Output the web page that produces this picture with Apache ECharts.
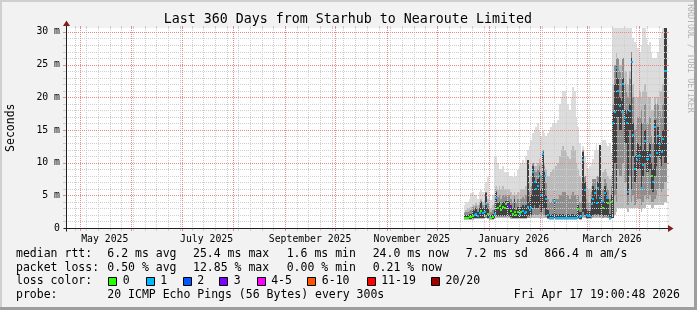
<!DOCTYPE html>
<html><head><meta charset="utf-8">
<script src="https://cdn.jsdelivr.net/npm/echarts@6/dist/echarts.min.js"></script>
<style>html,body{margin:0;padding:0;background:#f2f2f2}#c{width:697px;height:310px}</style>
</head><body><div id="c"></div>
<script>
// ---------------- data ----------------
const chartTitle = 'Last 360 Days from Starhub to Nearoute Limited';
const firstDay = [2025, 12, 17];           // first daily sample
// median rtt (ms) per day
const median = [
 1.6,1.6,1.6,1.7,1.7,1.8,2.0,2.1,1.9,2.3,
 2.6,2.3,2.4,3.7,2.2,1.7,1.6,1.7,2.2,4.6,
 3.0,3.4,2.8,3.2,3.0,3.6,3.5,3.2,2.6,2.2,
 2.5,2.0,2.4,2.2,2.4,2.6,2.3,2.5,3.2,2.8,
 3.0,8.6,7.0,6.0,6.5,7.9,5.0,11.3,7.9,4.4,
 2.0,1.6,1.5,1.6,4.0,1.6,1.5,1.6,1.5,1.6,
 1.5,1.5,1.6,1.5,1.6,1.6,1.5,1.6,2.9,1.7,
 1.8,10.4,5.8,2.0,1.8,1.8,3.7,4.5,5.3,3.8,
 6.1,4.6,4.0,3.0,5.3,4.6,3.8,1.5,4.0,16.1,
 17.8,24.5,21.0,18.6,17.8,22.0,16.8,16.0,5.5,17.9,
 25.4,14.2,9.1,10.4,11.0,11.0,6.1,9.7,13.3,10.5,
 10.5,11.2,7.9,7.1,15.5,11.4,14.0,12.9,11.6,13.6,
 24.0,24.0];
// loss bucket index per day (0 = no loss, 1 = 1 lost, 3 = 3 lost ...)
const lossBucket = [
 0,0,0,0,0,0,1,1,1,1,
 0,1,1,1,0,1,0,0,1,1,
 0,0,0,0,0,0,3,3,0,0,
 0,0,0,1,0,1,1,1,1,1,
 1,1,1,1,1,1,1,1,1,1,
 1,1,1,1,1,1,1,1,1,1,
 1,1,1,1,1,1,1,1,0,1,
 1,1,1,1,1,1,1,1,1,1,
 1,1,1,0,1,1,0,1,0,1,
 1,1,1,1,1,1,1,1,1,1,
 1,1,1,1,1,1,1,1,1,1,
 1,1,0,1,1,1,1,1,1,1,
 1,1];
// smoke: lowest ping (ms)
const smokeMin = [
 1.3,1.3,1.3,1.3,1.3,1.3,1.4,1.4,1.4,1.4,
 1.4,1.4,1.4,1.5,1.4,1.3,1.3,1.3,1.4,1.5,
 1.5,1.5,1.5,1.5,1.5,1.5,1.5,1.5,1.4,1.4,
 1.4,1.4,1.4,1.4,1.4,1.4,1.4,1.4,1.5,1.5,
 1.5,1.6,1.6,1.6,1.6,1.6,1.6,1.6,1.6,1.5,
 1.4,1.3,1.3,1.3,1.4,1.3,1.3,1.3,1.3,1.3,
 1.3,1.3,1.3,1.3,1.3,1.3,1.3,1.3,1.4,1.3,
 1.3,1.5,1.5,1.4,1.4,1.4,1.4,1.5,1.5,1.5,
 1.5,1.5,1.5,1.5,1.5,1.5,1.5,1.3,1.4,1.5,
 2.0,2.5,3.0,3.0,3.0,3.0,3.0,3.0,2.5,3.0,
 3.0,3.0,3.0,3.0,3.0,3.0,2.5,3.0,3.0,3.5,
 3.5,3.5,3.0,3.0,3.5,3.5,3.5,3.5,3.5,3.5,
 4.0,4.0];
// smoke: middle half of the pings, low and high edge (ms)
const midLow = [
 1.4,1.4,1.4,1.4,1.4,1.4,1.5,1.5,1.5,1.5,
 1.5,1.5,1.5,1.6,1.5,1.4,1.4,1.4,1.5,1.7,
 1.7,1.7,1.7,1.7,1.7,1.7,1.7,1.7,1.6,1.5,
 1.5,1.5,1.5,1.5,1.5,1.5,1.5,1.5,1.6,1.6,
 1.7,2.0,2.2,2.0,2.0,2.2,1.8,2.0,2.0,1.7,
 1.4,1.4,1.4,1.4,1.4,1.4,1.4,1.4,1.4,1.4,
 1.4,1.4,1.4,1.4,1.4,1.4,1.4,1.4,1.5,1.4,
 1.4,1.8,1.7,1.5,1.5,1.5,1.6,1.7,1.8,1.7,
 1.8,1.7,1.7,1.6,1.7,1.7,1.6,1.4,1.5,1.5,
 5.0,4.0,9.0,8.0,8.0,10.0,7.0,7.0,3.5,8.0,
 4.0,5.0,3.5,4.0,4.5,4.5,3.5,4.0,5.0,4.5,
 4.5,5.0,4.0,4.0,4.5,5.0,6.0,6.0,5.5,6.0,
 7.0,7.0];
const midHigh = [
 2.3,2.5,2.5,2.6,2.8,3.2,3.0,3.4,3.0,3.5,
 4.2,3.5,3.6,5.5,3.8,2.7,2.5,2.8,3.8,6.0,
 4.8,5.0,4.5,5.0,4.8,5.0,5.0,5.0,4.5,4.0,
 5.0,4.0,4.5,4.2,4.5,4.8,4.5,5.0,10.4,5.5,
 6.5,10.0,9.0,8.5,9.0,9.5,8.0,12.0,9.5,7.0,
 4.5,4.0,4.0,4.5,6.0,4.5,4.5,5.0,5.0,5.5,
 5.5,5.0,5.0,4.5,5.0,5.5,5.0,4.5,5.0,4.0,
 4.0,12.0,8.0,4.5,4.0,4.0,5.5,7.5,7.5,6.0,
 8.0,12.7,7.0,6.0,7.5,7.0,6.0,4.5,6.5,19.0,
 25,26,26,24,23,26,22,21,20,23,
 27,20,15,16,17,17,18,16,19,16,
 16,17,14,13,19,17,19,18,17,19,
 30.6,30.6];
// smoke: dense (dark) core, low and high edge (ms)
const darkLow = [
 1.4,1.4,1.4,1.4,1.4,1.5,1.5,1.5,1.5,1.6,
 1.6,1.6,1.6,2.0,1.6,1.4,1.4,1.4,1.5,2.0,
 1.8,1.8,1.8,1.8,1.8,1.9,1.9,1.9,1.7,1.6,
 1.6,1.6,1.6,1.6,1.6,1.6,1.6,1.6,1.8,1.8,
 2.0,3.0,3.5,3.0,3.0,3.5,2.5,3.0,3.0,2.0,
 1.5,1.4,1.4,1.4,1.6,1.4,1.4,1.4,1.4,1.4,
 1.4,1.4,1.4,1.4,1.4,1.4,1.4,1.4,1.6,1.4,
 1.4,2.5,2.0,1.5,1.5,1.5,1.8,2.0,2.2,2.0,
 2.2,2.0,2.0,1.8,2.0,2.0,1.8,1.4,1.5,1.5,
 10.0,6.0,17.0,15.0,15.0,18.0,13.0,13.0,5.0,15.0,
 6.0,11.0,7.0,8.0,9.0,9.0,6.0,8.0,10.0,8.5,
 8.5,9.0,6.0,5.5,8.0,9.5,11.0,10.5,9.5,11.0,
 10.0,10.0];
const darkHigh = [
 1.9,2.0,2.0,2.1,2.2,2.8,2.6,3.0,2.5,3.0,
 4.0,3.0,3.0,5.3,3.0,2.2,2.0,2.2,2.8,5.5,
 3.8,4.0,3.5,4.0,3.8,4.2,4.2,4.0,3.5,3.0,
 4.5,2.8,3.2,3.0,3.2,3.5,3.2,3.5,10.4,4.0,
 5.0,9.5,8.0,7.0,7.5,8.5,6.0,11.6,8.5,5.0,
 2.8,2.2,2.0,2.2,4.5,2.2,2.0,2.2,2.0,2.2,
 2.0,2.0,2.2,2.0,2.2,2.2,2.0,2.2,3.5,2.5,
 2.5,11.7,7.0,3.0,2.6,2.6,4.5,6.5,6.0,4.5,
 7.0,12.7,5.0,4.0,6.5,5.5,4.5,2.2,5.0,17.8,
 22.0,25.0,23.0,20.0,19.5,23.0,18.0,17.5,18.0,19.0,
 26.0,16.0,11.0,12.0,13.0,12.5,16.0,12.0,15.0,12.0,
 12.0,13.0,10.0,9.0,16.5,13.0,15.5,14.0,13.0,15.0,
 30.6,30.6];
// smoke: upper edge of the medium grey part (ms)
const grayHigh = [
 2.5,2.8,3.0,3.0,3.2,3.5,3.5,3.8,3.5,4.0,
 4.5,4.0,4.2,5.5,4.5,3.2,3.0,3.5,5.0,6.5,
 6.0,6.5,6.0,6.5,6.0,6.0,6.0,6.0,5.5,5.0,
 5.5,5.0,5.5,5.5,6.0,6.0,6.0,6.5,7.0,7.0,
 8.0,9.0,9.5,9.5,10.0,10.5,10.0,11.0,10.0,9.0,
 8.0,8.0,8.5,9.0,9.0,9.5,10.0,11.0,12.0,12.5,
 12.0,11.5,11.0,10.5,12.0,12.5,12.0,10.0,9.0,8.0,
 7.0,8.0,7.5,6.5,6.0,6.0,6.5,7.0,7.5,8.0,
 8.0,8.0,8.0,8.5,9.0,8.5,8.0,7.5,8.0,22.0,
 25,27,26,25,25,26,24,24,22,24,
 27,22,20,20,20,21,20,21,22,21,
 20,20,18,18,20,19,20,21,21,22,
 26,26];
// smoke: highest ping (ms)
const smokeMax = [
 3.5,4.0,4.0,4.5,5.3,5.5,5.0,5.0,4.5,5.5,
 5.8,5.5,5.0,7.0,7.8,5.0,4.3,5.0,10.9,10.9,
 10.0,9.0,9.0,9.5,8.5,8.5,8.5,8.0,8.0,7.8,
 8.5,8.0,8.9,9.5,10.0,10.4,10.0,11.0,12.0,12.5,
 13.5,14.5,15.0,15.5,16.0,15.0,14.0,15.0,14.5,14.0,
 14.5,15.0,15.5,16.0,16.5,16.0,16.5,19.0,20.0,21.0,
 21.0,20.0,19.0,18.0,20.0,21.5,21.0,17.0,15.5,13.0,
 11.0,12.5,11.0,10.0,9.0,9.5,10.0,10.5,12.0,13.0,
 12.0,11.5,12.5,13.5,13.5,13.0,12.5,13.0,11.5,30.6,
 30.6,30.6,30.6,30.6,30.6,30.6,30.6,30.6,30.6,30.6,
 30.6,29.0,28.5,28.0,27.5,27.0,28.0,30.6,30.6,29.0,
 28.0,28.5,27.0,26.0,26.0,26.0,27.0,29.0,30.0,30.6,
 30.6,30.6];

const yTickValues = [0, 5, 10, 15, 20, 25, 30];
const yTickLabels = ['0', '5 m', '10 m', '15 m', '20 m', '25 m', '30 m'];
const xLabelMonths = [[2025,5],[2025,7],[2025,9],[2025,11],[2026,1],[2026,3]];
const xLabelTexts = ['May 2025','July 2025','September 2025','November 2025','January 2026','March 2026'];
const lossLabels = ['0','1','2','3','4-5','6-10','11-19','20/20'];
const lossColors = ['#26ff00','#00b8ff','#0059ff','#7e00ff','#ff00ff','#ff5500','#ff0000','#a10000'];
const statRtt = ['median rtt:', '6.2 ms avg', '25.4 ms max', '1.6 ms min', '24.0 ms now', '7.2 ms sd', '866.4 m am/s'];
const statLoss = ['packet loss:', '0.50 % avg', '12.85 % max', '0.00 % min', '0.21 % now'];
const probeText = ['probe:', '20 ICMP Echo Pings (56 Bytes) every 300s'];
const stampText = 'Fri Apr 17 19:00:48 2026';
const watermark = 'RRDTOOL / TOBI OETIKER';

(function () {
// ---------------- scale helpers ----------------
const START = Date.UTC(2025, 3, 22, 19, 0, 48);
const SPAN = 360, YMAX = 30.6;
const dayOff = ms => (ms - START) / 864e5;
const dayT = median.map((_, i) => dayOff(Date.UTC(firstDay[0], firstDay[1] - 1, firstDay[2] + i)));
const monthStarts = [];
for (let k = 0; k < 12; k++) monthStarts.push(dayOff(Date.UTC(2025, 4 + k, 1)));
const weeks = [];
for (let k = 0; ; k++) { const v = dayOff(Date.UTC(2025, 3, 28 + 7 * k)); if (v > SPAN) break; weeks.push(v); }
const xLabelPos = xLabelMonths.map(([y, m]) => dayOff(Date.UTC(y, m - 1, 16)));

const FONT = 'DejaVu Sans Mono';
const GRID_MINOR = '#cfcfcf', GRID_MAJOR = '#e48a8a';

function band(lowArr, highArr, color, z) {
  return {
    type: 'custom', clip: true, silent: true, z,
    data: dayT.map((t, i) => [t, lowArr[i], highArr[i]]),
    encode: { x: 0, y: [1, 2] },
    renderItem(params, api) {
      const t = api.value(0);
      const a = api.coord([t, api.value(1)]);
      const b = api.coord([t + 1, Math.min(api.value(2), YMAX)]);
      const x0 = Math.round(a[0]), x1 = Math.round(b[0]);
      const y0 = Math.round(a[1]), y1 = Math.round(b[1]);
      return { type: 'rect', shape: { x: x0, y: y1, width: x1 - x0, height: y0 - y1 }, style: { fill: color } };
    }
  };
}

function gridSeries(items, dir, color, z) {
  return {
    type: 'custom', silent: true, z,
    data: items.map(v => [v, 0]),
    encode: { x: 0, y: 1 },
    renderItem(params, api) {
      const v = api.value(0);
      const ch = [];
      if (dir === 0) {
        const p = api.coord([v, 0]), q = api.coord([v, YMAX]);
        const x = Math.round(p[0]) + 0.5;
        ch.push({ type: 'line', shape: { x1: x, y1: q[1], x2: x, y2: p[1] }, style: { stroke: color, lineWidth: 1, lineDash: [1, 1] } });
        ch.push({ type: 'line', shape: { x1: x, y1: q[1] - 2, x2: x, y2: q[1] }, style: { stroke: color, lineWidth: 1 } });
        ch.push({ type: 'line', shape: { x1: x, y1: p[1], x2: x, y2: p[1] + 3 }, style: { stroke: color, lineWidth: 1 } });
      } else {
        const p = api.coord([0, v]), q = api.coord([SPAN, v]);
        const y = Math.round(p[1]) + 0.5;
        ch.push({ type: 'line', shape: { x1: p[0], y1: y, x2: q[0], y2: y }, style: { stroke: color, lineWidth: 1, lineDash: [1, 1] } });
        ch.push({ type: 'line', shape: { x1: p[0] - 3, y1: y, x2: p[0], y2: y }, style: { stroke: color, lineWidth: 1 } });
        ch.push({ type: 'line', shape: { x1: q[0], y1: y, x2: q[0] + 2, y2: y }, style: { stroke: color, lineWidth: 1 } });
      }
      return { type: 'group', children: ch };
    }
  };
}
const minorY = [], majorY = [];
for (let v = 1; v <= 30; v++) (v % 5 === 0 ? majorY : minorY).push(v);

const medianSeries = {
  type: 'custom', clip: true, silent: true, z: 20,
  data: dayT.map((t, i) => [t, median[i], lossBucket[i]]),
  encode: { x: 0, y: 1 },
  renderItem(params, api) {
    const t = api.value(0), v = api.value(1);
    const a = api.coord([t, v]), b = api.coord([t + 1, v]);
    const x0 = Math.round(a[0]);
    const x1 = Math.max(Math.round(b[0]), x0 + 2);
    const y = Math.round(a[1]) - 1;
    return { type: 'rect', shape: { x: x0, y, width: x1 - x0, height: 2 }, style: { fill: lossColors[api.value(2)] } };
  }
};

const chart = echarts.init(document.getElementById('c'), null, { renderer: 'canvas' });
chart.setOption({
  animation: false,
  backgroundColor: '#f2f2f2',
  grid: { left: 66, top: 28, width: 601, height: 200, show: true, backgroundColor: '#ffffff', borderWidth: 0 },
  xAxis: {
    type: 'value', min: 0, max: SPAN,
    axisLine: { show: false }, splitLine: { show: false },
    axisTick: { show: false },
    axisLabel: {
      customValues: xLabelPos, margin: 6,
      fontFamily: FONT, fontSize: 9.8, color: '#000',
      formatter: v => { let k = 0, d = 1e9; xLabelPos.forEach((p, i) => { if (Math.abs(p - v) < d) { d = Math.abs(p - v); k = i; } }); return xLabelTexts[k]; }
    }
  },
  yAxis: {
    type: 'value', min: 0, max: YMAX,
    axisLine: { show: false }, splitLine: { show: false }, axisTick: { show: false },
    axisLabel: {
      customValues: yTickValues, margin: 6,
      fontFamily: FONT, fontSize: 9.8, color: '#000',
      formatter: v => yTickLabels[yTickValues.indexOf(Math.round(v))] || ''
    }
  },
  series: [
    band(smokeMin, smokeMax, '#dcdcdc', 1),
    band(smokeMin, grayHigh, '#bababa', 2),
    band(midLow, midHigh, '#8e8e8e', 3),
    band(darkLow, darkHigh, '#404040', 4),
    gridSeries(weeks, 0, GRID_MINOR, 5),
    gridSeries(minorY, 1, GRID_MINOR, 5),
    gridSeries(monthStarts, 0, GRID_MAJOR, 6),
    gridSeries(majorY, 1, GRID_MAJOR, 6),
    medianSeries
  ]
});

// ---------- frame, axes, legend texts ----------
const o = chart.convertToPixel({ gridIndex: 0 }, [0, 0]);
const tr = chart.convertToPixel({ gridIndex: 0 }, [SPAN, YMAX]);
const ox = Math.round(o[0]) + 0.5, oy = Math.round(o[1]) + 0.5;
const topY = Math.round(tr[1]), rightX = Math.round(tr[0]);
const AX = '#1f1f1f', ARROW = '#801f1f';
const txt = (text, x, y, size, extra) => ({
  type: 'text', x, y, z: 50, silent: true,
  style: Object.assign({ text, fontFamily: FONT, fontSize: size, fill: '#000', align: 'left', verticalAlign: 'middle' }, extra || {})
});
const g = [];
// 3D frame
g.push({ type: 'rect', z: 40, shape: { x: 0, y: 0, width: 697, height: 2 }, style: { fill: '#cfcfcf' } });
g.push({ type: 'rect', z: 40, shape: { x: 0, y: 0, width: 2, height: 310 }, style: { fill: '#cfcfcf' } });
g.push({ type: 'rect', z: 41, shape: { x: 0, y: 307, width: 697, height: 3 }, style: { fill: '#9e9e9e' } });
g.push({ type: 'rect', z: 41, shape: { x: 694, y: 0, width: 3, height: 310 }, style: { fill: '#9e9e9e' } });
// axes
g.push({ type: 'line', z: 45, shape: { x1: ox - 3, y1: oy, x2: rightX + 1, y2: oy }, style: { stroke: AX, lineWidth: 1 } });
g.push({ type: 'line', z: 45, shape: { x1: ox, y1: oy + 3, x2: ox, y2: topY - 2 }, style: { stroke: AX, lineWidth: 1 } });
g.push({ type: 'polygon', z: 46, shape: { points: [[ox, topY - 7.5], [ox - 3.5, topY - 2], [ox + 3.5, topY - 2]] }, style: { fill: ARROW } });
g.push({ type: 'polygon', z: 46, shape: { points: [[rightX + 6.5, oy], [rightX + 1, oy - 3.5], [rightX + 1, oy + 3.5]] }, style: { fill: ARROW } });
// titles
g.push(txt(chartTitle, 347.8, 19.3, 13.3, { align: 'center' }));
g.push(Object.assign(txt('Seconds', 11, 127.7, 11.5, { align: 'center' }), { rotation: Math.PI / 2 }));
g.push(Object.assign(txt(watermark, 690, 58.5, 8.2, { align: 'center', fill: '#b3b3b3' }), { rotation: -Math.PI / 2 }));
// legend lines
const rttX = [16, 107.3, 193, 286.7, 372.7, 465.7, 544.3];
statRtt.forEach((s, i) => g.push(txt(s, rttX[i], 253.8, 11.5)));
statLoss.forEach((s, i) => g.push(txt(s, rttX[i], 267.6, 11.5)));
g.push(txt('loss color:', 16, 281.5, 11.5));
const boxX = [108.3, 145.7, 182.7, 219.3, 256.7, 307.3, 366.7, 431];
lossLabels.forEach((s, i) => {
  g.push({ type: 'rect', z: 50, shape: { x: Math.round(boxX[i]) + 0.5, y: 277.5, width: 8, height: 8 }, style: { fill: lossColors[i], stroke: '#000', lineWidth: 1 } });
  g.push(txt(s, boxX[i] + 14.5, 281.5, 11.5));
});
g.push(txt(probeText[0], 16, 295.5, 11.5));
g.push(txt(probeText[1], 107.3, 295.5, 11.5));
g.push(txt(stampText, 680, 295.5, 11.5, { align: 'right' }));
chart.setOption({ graphic: { elements: g } });
})();
</script>
</body></html>
